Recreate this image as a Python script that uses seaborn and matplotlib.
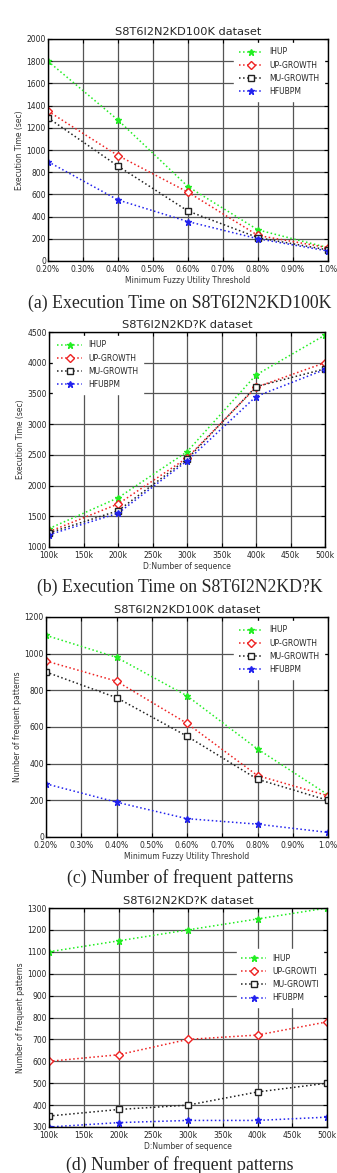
import numpy as np
import matplotlib
matplotlib.use('Agg')
import matplotlib.pyplot as plt
import pandas as pd
import seaborn as sns

series_names = ['IHUP', 'UP-GROWTH', 'MU-GROWTH', 'HFUBPM']
series_names_d = ['IHUP', 'UP-GROWTI', 'MU-GROWTI', 'HFUBPM']

thresh = [0.2, 0.4, 0.6, 0.8, 1.0]
thresh_ticks = [0.2, 0.3, 0.4, 0.5, 0.6, 0.7, 0.8, 0.9, 1.0]
thresh_labels = ['0.20%', '0.30%', '0.40%', '0.50%', '0.60%', '0.70%', '0.80%', '0.90%', '1.0%']

seqs = [100, 200, 300, 400, 500]
seq_ticks = [100, 150, 200, 250, 300, 350, 400, 450, 500]
seq_labels = ['100k', '150k', '200k', '250k', '300k', '350k', '400k', '450k', '500k']

# (a) execution time vs threshold
time_thr = {
    'IHUP': [1800, 1270, 670, 280, 120],
    'UP-GROWTH': [1350, 950, 620, 230, 120],
    'MU-GROWTH': [1290, 855, 450, 210, 100],
    'HFUBPM': [895, 550, 355, 200, 90],
}
# (b) execution time vs number of sequences
time_seq = {
    'IHUP': [1300, 1800, 2550, 3800, 4450],
    'UP-GROWTH': [1250, 1700, 2450, 3600, 4000],
    'MU-GROWTH': [1230, 1590, 2430, 3610, 3900],
    'HFUBPM': [1200, 1550, 2400, 3450, 3890],
}
# (c) frequent patterns vs threshold
pat_thr = {
    'IHUP': [1100, 980, 770, 480, 230],
    'UP-GROWTH': [960, 850, 620, 335, 225],
    'MU-GROWTH': [900, 760, 550, 315, 200],
    'HFUBPM': [290, 190, 100, 70, 25],
}
# (d) frequent patterns vs number of sequences
pat_seq = {
    'IHUP': [1100, 1150, 1200, 1250, 1300],
    'UP-GROWTH': [600, 630, 700, 720, 780],
    'MU-GROWTH': [350, 380, 400, 460, 500],
    'HFUBPM': [300, 320, 330, 330, 345],
}

styles = {
    'IHUP': dict(color='#22ee22', marker='*', mfc='#22ee22', ms=5),
    'UP-GROWTH': dict(color='#ee2222', marker='D', mfc='white', ms=4),
    'MU-GROWTH': dict(color='#222222', marker='s', mfc='white', ms=5),
    'HFUBPM': dict(color='#2222ee', marker='*', mfc='#2222ee', ms=5),
}

sns.set_style('ticks')
plt.rcParams['font.family'] = ['DejaVu Sans']

W, H = 337, 1173
fig = plt.figure(figsize=(W / 100, H / 100), dpi=100)


def box(l, r, t, b):
    return [l / W, 1 - b / H, (r - l) / W, (b - t) / H]


def panel(rect, x, data, xticks, xlabels, xlim, ylim, yticks, title, xlabel, ylabel,
          legend_loc, names, caption, cap_y):
    ax = fig.add_axes(rect)
    for key, name in zip(series_names, names):
        st = styles[key]
        sns.lineplot(x=x, y=data[key], ax=ax, color=st['color'], marker=st['marker'],
                     markerfacecolor=st['mfc'], markeredgecolor=st['color'],
                     markersize=st['ms'], markeredgewidth=1.0,
                     linestyle=':', linewidth=1.1, label=name)
    ax.set_xlim(*xlim)
    ax.set_ylim(*ylim)
    ax.set_xticks(xticks)
    ax.set_xticklabels(xlabels)
    ax.set_yticks(yticks)
    ax.grid(True, color='#555555', linewidth=0.9)
    ax.tick_params(direction='in', top=True, right=True, labelsize=5.5, length=3,
                   color='black')
    ax.tick_params(axis='x', pad=2.8)
    ax.tick_params(axis='y', pad=1.5)
    for s in ax.spines.values():
        s.set_color('black')
        s.set_linewidth(1.0)
    ax.set_title(title, fontsize=8.2, pad=3)
    ax.set_xlabel(xlabel, fontsize=5.5, labelpad=1.5, color='#333333')
    ax.set_ylabel(ylabel, fontsize=5.5, labelpad=2, color='#333333')
    ax.legend(loc=legend_loc[0], bbox_to_anchor=legend_loc[1], fontsize=5.5,
              frameon=True, fancybox=False, framealpha=1.0,
              edgecolor='white', handlelength=3.2, borderpad=0.6,
              labelspacing=0.55)
    fig.text(180 / W, 1 - cap_y / H, caption, ha='center', va='center',
             family='Liberation Serif', fontsize=12.8)
    return ax


panel(box(48, 328, 39, 261), thresh, time_thr, thresh_ticks, thresh_labels,
      (0.2, 1.0), (0, 2000), np.arange(0, 2001, 200),
      'S8T6I2N2KD100K dataset', 'Minimum Fuzzy Utility Threshold', 'Execution Time (sec)',
      ('upper right', (1.0, 1.0)), series_names,
      '(a) Execution Time on S8T6I2N2KD100K', 303)

panel(box(49, 325, 332, 547), seqs, time_seq, seq_ticks, seq_labels,
      (100, 500), (1000, 4500), np.arange(1000, 4501, 500),
      'S8T6I2N2KD?K dataset', 'D:Number of sequence', 'Execution Time (sec)',
      ('upper left', (0.0, 1.0)), series_names,
      '(b) Execution Time on S8T6I2N2KD?K', 587)

panel(box(46, 328, 617, 837), thresh, pat_thr, thresh_ticks, thresh_labels,
      (0.2, 1.0), (0, 1200), np.arange(0, 1201, 200),
      'S8T6I2N2KD100K dataset', 'Minimum Fuzzy Utility Threshold', 'Number of frequent patterns',
      ('upper right', (1.0, 1.0)), series_names,
      '(c) Number of frequent patterns', 878)

panel(box(49, 327, 908, 1127), seqs, pat_seq, seq_ticks, seq_labels,
      (100, 500), (300, 1300), np.arange(300, 1301, 100),
      'S8T6I2N2KD?K dataset', 'D:Number of sequence', 'Number of frequent patterns',
      ('upper right', (1.0, 0.83)), series_names_d,
      '(d) Number of frequent patterns', 1165)

fig.savefig('out.png', dpi=100)
